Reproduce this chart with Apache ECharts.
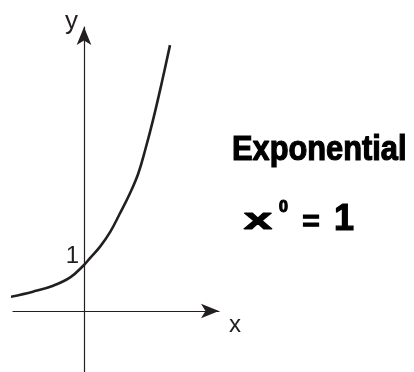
<!DOCTYPE html>
<html>
<head>
<meta charset="utf-8">
<script src="https://cdn.jsdelivr.net/npm/echarts@6/dist/echarts.min.js"></script>
<style>
  html, body { margin: 0; padding: 0; background: #fff; }
  #chart { width: 414px; height: 372px; }
</style>
</head>
<body>
<div id="chart"></div>
<script>
// curve (1 unit = 46px on both axes)
const curveX = [-1.59, -1.11, -0.67, -0.30, 0, 0.13, 0.35, 0.57, 0.78, 1.00, 1.18, 1.33, 1.50, 1.69, 1.87];
const curveY = [0.31, 0.42, 0.55, 0.73, 1.0, 1.15, 1.40, 1.72, 2.12, 2.56, 2.99, 3.50, 4.15, 4.96, 5.78];
const interceptPoint = [0, 1];
const interceptLabel = "1";
const axisNames = { x: "x", y: "y" };
const noteTitle = "Exponential";
const notePower = ["x", "0", "=", "1"];

const ink = "#231f20";
const font = "'Liberation Sans', Arial, sans-serif";
const handFont = "'Liberation Sans', Arial, sans-serif";

function hand(text, x, y, size, scaleX) {
  return {
    type: "text", x, y, scaleX: scaleX || 1,
    style: {
      text, font: "bold " + size + "px " + handFont,
      fill: "#000", stroke: "#000", lineWidth: 1.2,
      align: "center", verticalAlign: "middle"
    }
  };
}

const chart = echarts.init(document.getElementById("chart"), null, { renderer: "canvas" });

chart.setOption({
  animation: false,
  grid: { left: 13, right: 195, top: 27, bottom: 0, outerBoundsMode: "none", containLabel: false },
  xAxis: {
    type: "value",
    min: -1.5435, max: 2.9348,
    name: axisNames.x,
    nameLocation: "end",
    nameGap: 10,
    nameTextStyle: { color: ink, fontFamily: font, fontSize: 24, verticalAlign: "top", padding: [2, 0, 0, 0] },
    axisLine: { onZero: true, symbol: ["none", "arrow"], symbolSize: [11, 18], lineStyle: { color: ink, width: 1.2 } },
    axisTick: { show: false },
    axisLabel: { show: false },
    splitLine: { show: false }
  },
  yAxis: {
    type: "value",
    min: -1.3261, max: 6.1739,
    name: axisNames.y,
    nameLocation: "end",
    nameGap: 18,
    nameTextStyle: { color: ink, fontFamily: font, fontSize: 26, align: "right", verticalAlign: "top", padding: [0, 6, 0, 0] },
    axisLine: { onZero: true, symbol: ["none", "arrow"], symbolSize: [11, 18], lineStyle: { color: ink, width: 1.2 } },
    axisTick: { show: false },
    axisLabel: { show: false },
    splitLine: { show: false }
  },
  series: [
    {
      type: "line",
      data: curveX.map((x, i) => [x, curveY[i]]),
      smooth: 0.4,
      symbol: "none",
      clip: false,
      lineStyle: { color: ink, width: 2.6 }
    },
    {
      // "1" written beside the y-intercept
      type: "scatter",
      data: [interceptPoint],
      symbolSize: 0,
      silent: true,
      itemStyle: { opacity: 1, color: ink },
      label: {
        show: true, formatter: interceptLabel, position: "left",
        distance: 5, offset: [0, -9], opacity: 1,
        color: ink, fontFamily: font, fontSize: 24
      }
    }
  ],
  graphic: [
    {
      type: "text", x: 232, y: 150, scaleX: 0.88,
      style: {
        text: noteTitle, font: "bold 35px " + handFont,
        fill: "#000", stroke: "#000", lineWidth: 1.2,
        align: "left", verticalAlign: "middle"
      }
    },
    hand(notePower[0], 258, 221, 30, 1.7),
    hand(notePower[1], 283.5, 207.5, 16),
    hand(notePower[2], 311, 223, 30),
    hand(notePower[3], 344, 220, 36)
  ]
});
</script>
</body>
</html>
